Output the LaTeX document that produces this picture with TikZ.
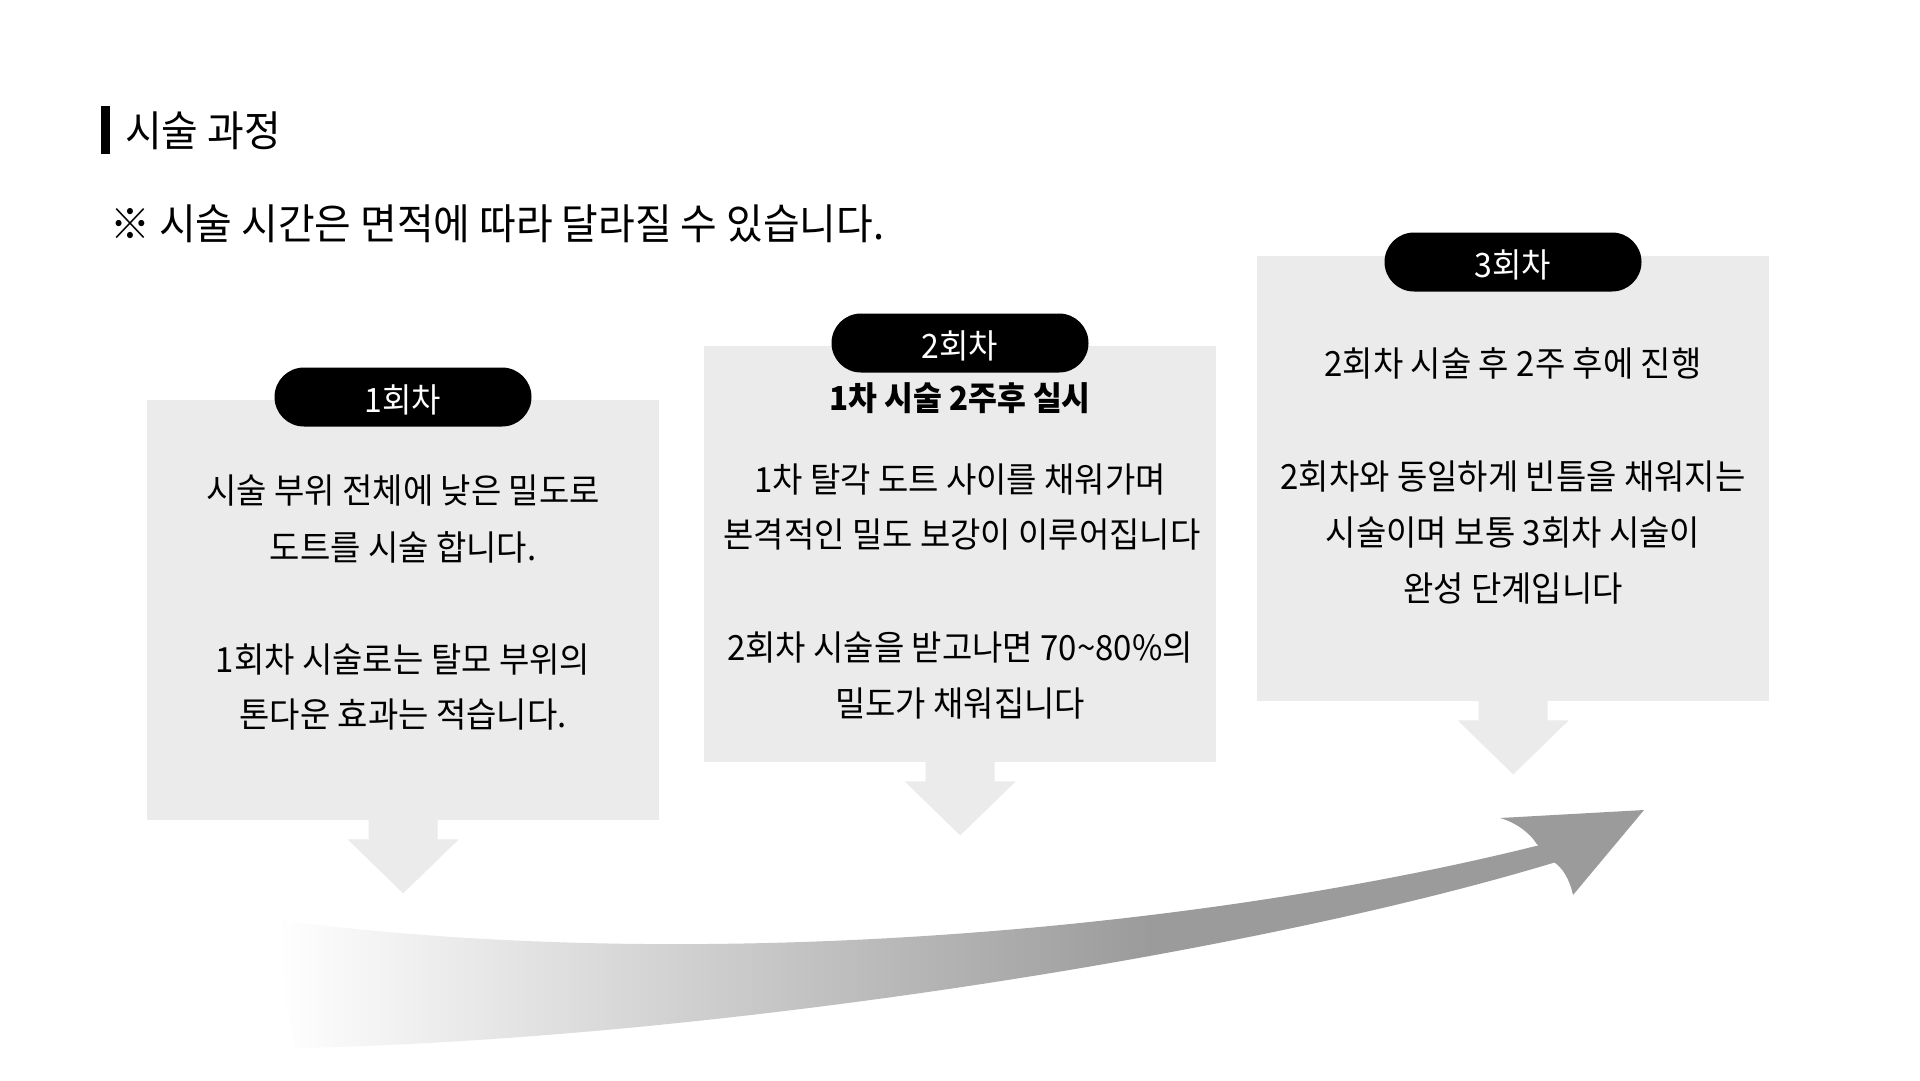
\documentclass[tikz,border=0pt]{standalone}
\usepackage{fontspec}
\newfontfamily\kr[FakeStretch=0.95]{Noto Sans CJK KR}
\usetikzlibrary{calc}
\definecolor{boxgray}{RGB}{235,235,235}
\definecolor{arrgray}{RGB}{155,155,155}
\newcommand{\pilltext}[1]{\raisebox{-2.5pt}[\height][\depth]{#1}}
\begin{document}
\begin{tikzpicture}[x=1pt,y=-1pt,
  panel/.style={fill=boxgray, draw=none, minimum width=512pt, inner sep=0pt, anchor=north west},
  pill/.style={fill=black, text=white, rounded corners=29.5pt, minimum width=257pt, minimum height=59pt, inner sep=0pt, font=\kr\fontsize{33.6}{40}\selectfont},
  body/.style={inner sep=0pt, text=black, font=\kr\fontsize{34.7}{42}\selectfont},
  sub/.style={inner sep=0pt, text=black, font=\kr\bfseries\fontsize{33}{40}\selectfont},
  big/.style={inner sep=0pt, text=black, font=\kr\fontsize{42}{50}\selectfont, anchor=west}]
\useasboundingbox (0,0) rectangle (1920,1080);
\fill[white] (0,0) rectangle (1920,1080);

% title
\fill[black] (101,106) rectangle (110,154);
\node[big] (title) at (125,131) {시술 과정};
\node[big] (note) at (110,224) {※ 시술 시간은 면적에 따라 달라질 수 있습니다.};

% panels
\node[panel, minimum height=420pt] (b1) at (147,400) {};
\node[panel, minimum height=416pt] (b2) at (704,346) {};
\node[panel, minimum height=445pt] (b3) at (1257,256) {};

% down arrows under panels
\foreach \b in {b1,b2,b3}
  \fill[boxgray] ($(\b.south)+(-34.5,-1)$) -- ($(\b.south)+(34.5,-1)$) -- ($(\b.south)+(34.5,19)$)
    -- ($(\b.south)+(55.5,19)$) -- ($(\b.south)+(0,73)$) -- ($(\b.south)+(-55.5,19)$)
    -- ($(\b.south)+(-34.5,19)$) -- cycle;

% pills
\node[pill] (p1) at (403,397) {\pilltext{1회차}};
\node[pill] (p2) at (960,343) {\pilltext{2회차}};
\node[pill] (p3) at (1513,262) {\pilltext{3회차}};

% box 1 text
\node[body] (t11) at (403,490) {시술 부위 전체에 낮은 밀도로};
\node[body] (t12) at (403,547) {도트를 시술 합니다.};
\node[body] (t13) at (403,660) {1회차 시술로는 탈모 부위의};
\node[body] (t14) at (403,715) {톤다운 효과는 적습니다.};

% box 2 text
\node[sub] (s2) at (960,398) {1차 시술 2주후 실시};
\node[body] (t21) at (960,480) {1차 탈각 도트 사이를 채워가며};
\node[body] (t22) at (962,535) {본격적인 밀도 보강이 이루어집니다};
\node[body] (t23) at (960,648) {2회차 시술을 받고나면 70\textasciitilde 80\%의};
\node[body] (t24) at (960,704) {밀도가 채워집니다};

% box 3 text
\node[body] (t31) at (1513,363) {2회차 시술 후 2주 후에 진행};
\node[body] (t32) at (1513,476) {2회차와 동일하게 빈틈을 채워지는};
\node[body] (t33) at (1513,533) {시술이며 보통 3회차 시술이};
\node[body] (t34) at (1513,589) {완성 단계입니다};

% big progress arrow
\begin{scope}
  \clip (277,920) .. controls (700,975) and (1200,930) .. (1540,845)
    -- (1556,862) .. controls (1250,955) and (700,1040) .. (296,1048)
    .. controls (285,1000) and (280,960) .. cycle;
  \shade[left color=white, right color=arrgray] (277,800) rectangle (1150,1080);
  \fill[arrgray] (1149,800) rectangle (1570,1080);
\end{scope}
\fill[arrgray] (1500,818) -- (1644,810) -- (1573,895)
  .. controls (1570,880) and (1562,866) .. (1552,861) -- (1536,843)
  .. controls (1530,833) and (1515,822) .. cycle;
\end{tikzpicture}
\end{document}
